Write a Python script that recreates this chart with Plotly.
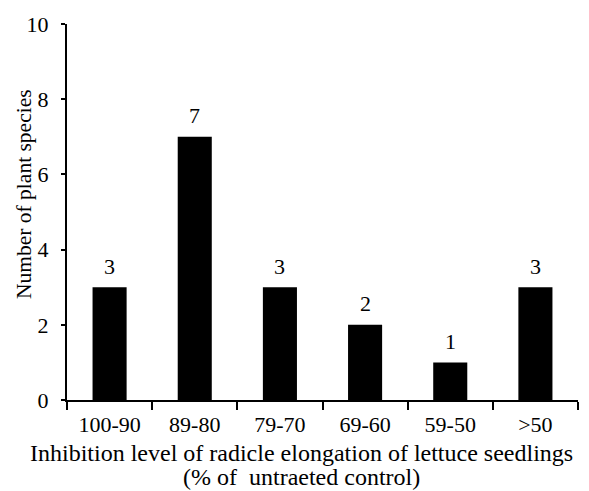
import plotly.graph_objects as go

categories = ["100-90", "89-80", "79-70", "69-60", "59-50", ">50"]
counts = [3, 7, 3, 2, 1, 3]
y_ticks = [0, 2, 4, 6, 8, 10]
x_title_lines = ["Inhibition level of radicle elongation of lettuce seedlings",
                 "(% of\u00a0 untraeted control)"]
y_title = "Number of plant species"

FONT = "Liberation Serif, Times New Roman, serif"

W, H = 589, 491
L, R, T, B = 67, 11, 24, 91
PW, PH = W - L - R, H - T - B


def px_to_paper(px, py):
    return (px - L) / PW, (H - B - py) / PH


fig = go.Figure(go.Bar(
    x=categories, y=counts,
    marker=dict(color="black", line=dict(width=0)),
    width=0.4,
))

annotations = []
for c, v in zip(categories, counts):
    annotations.append(dict(x=c, y=v, xref="x", yref="y", text=str(v), showarrow=False,
                            yanchor="middle", yshift=21,
                            font=dict(family=FONT, size=22, color="black")))
for line, py in zip(x_title_lines, [453, 477]):
    ax, ay = px_to_paper(301, py)
    annotations.append(dict(x=ax, y=ay, xref="paper", yref="paper",
                            yanchor="middle", xanchor="center", showarrow=False,
                            text=line, font=dict(family=FONT, size=24, color="black")))
ax, ay = px_to_paper(24, 194)
annotations.append(dict(x=ax, y=ay, xref="paper", yref="paper",
                        xanchor="center", yanchor="middle", textangle=-90, showarrow=False,
                        text=y_title, font=dict(family=FONT, size=21.5, color="black")))

fig.update_layout(
    width=W, height=H,
    margin=dict(l=L, r=R, t=T, b=B, autoexpand=False),
    paper_bgcolor="white", plot_bgcolor="white",
    font=dict(family=FONT, size=22, color="black"),
    showlegend=False,
    annotations=annotations,
)
fig.update_xaxes(
    showline=True, linecolor="black", linewidth=2,
    ticks="outside", tickson="boundaries", ticklen=8, tickwidth=2, tickcolor="black",
    showgrid=False, automargin=False, ticklabelstandoff=4,
    tickfont=dict(size=22),
)
fig.update_yaxes(
    range=[0, 10], tickvals=y_ticks, showline=True, linecolor="black", linewidth=2,
    ticks="outside", ticklen=4, tickwidth=2, tickcolor="black",
    showgrid=False, zeroline=False, automargin=False, ticklabelstandoff=8,
    tickfont=dict(size=22),
)

fig.write_html("out.html", config={"displayModeBar": False},
               post_script="document.body.style.margin='0';")
